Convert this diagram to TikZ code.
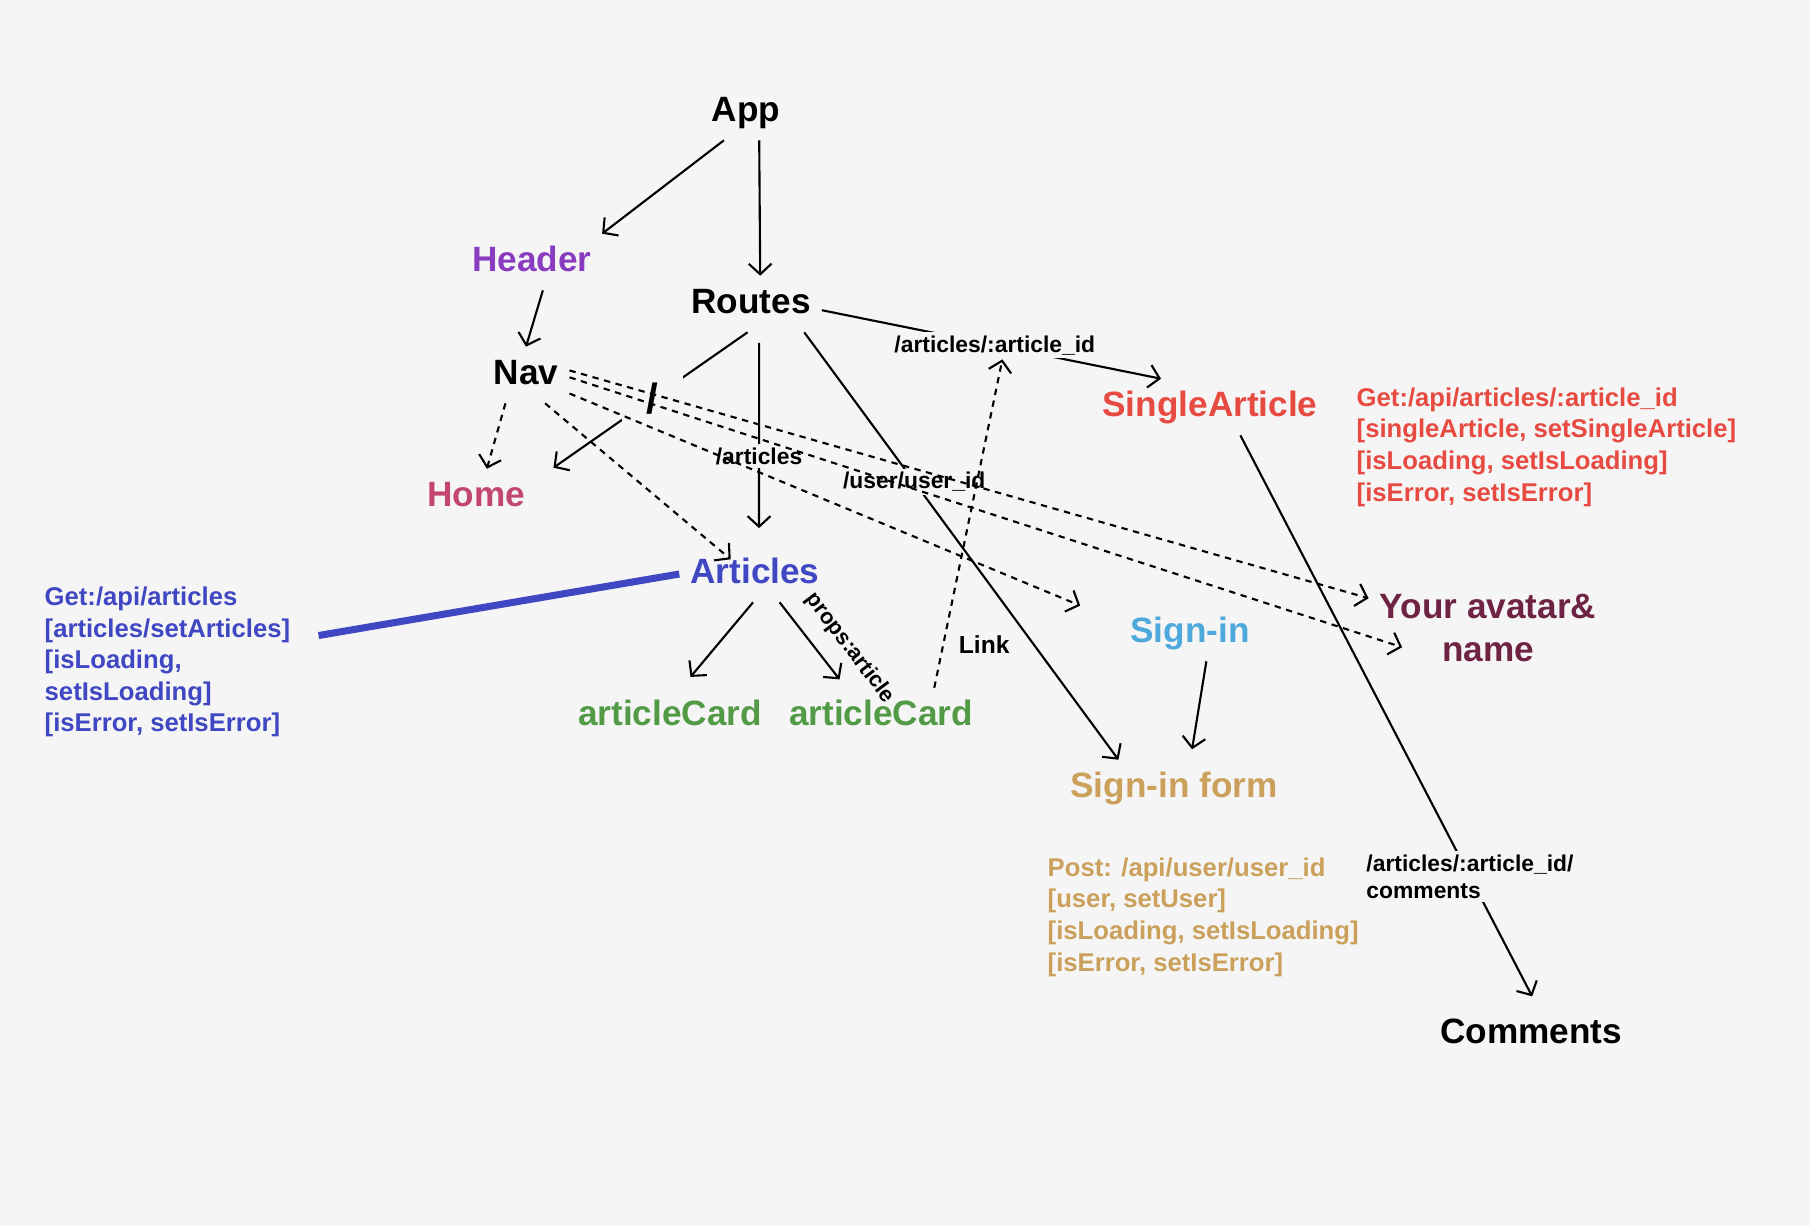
\documentclass[tikz,border=0pt]{standalone}
\usepackage{fontspec}
\setmainfont{Liberation Sans}
\usetikzlibrary{arrows.meta}
\definecolor{bgcol}{HTML}{F5F5F5}
\definecolor{headercol}{HTML}{8A3CC0}
\definecolor{homecol}{HTML}{C2466E}
\definecolor{articlescol}{HTML}{3F47C2}
\definecolor{singlecol}{HTML}{E64A40}
\definecolor{signincol}{HTML}{4DA8DC}
\definecolor{avatarcol}{HTML}{6E2343}
\definecolor{cardcol}{HTML}{529A45}
\definecolor{formcol}{HTML}{CBA05B}

\begin{document}
\begin{tikzpicture}[x=0.01cm,y=-0.01cm,>={Straight Barb[length=3pt,width=6.5pt]},
    bigfont/.style={font=\fontsize{10}{12.2}\selectfont\bfseries},
    compnode/.style={bigfont, inner sep=3pt, text height=7.5pt, text depth=2.2pt},
    routelbl/.style={font=\fontsize{6.5}{7.7}\selectfont\bfseries, fill=bgcol, inner sep=1pt},
    hooktext/.style={font=\fontsize{7.3}{9}\selectfont\bfseries, align=left, inner sep=0pt, anchor=west},
    solidarrow/.style={->, line width=0.6pt},
    navarrow/.style={->, line width=0.6pt, dash pattern=on 1.8pt off 1.6pt}]

%the page
    \fill[bgcol] (0,0) rectangle (1810,1226);

%the components
    \node[compnode] (App) at (746,112) {App};
    \node[compnode, headercol] (Header) at (532,262) {Header};
    \node[compnode] (Routes) at (751,304) {Routes};
    \node[compnode] (Nav) at (526,375) {Nav};
    \node[compnode, homecol] (Home) at (476,497) {Home};
    \node[compnode, articlescol] (Articles) at (755,574) {Articles};
    \node[compnode, singlecol] (SingleArticle) at (1210,407) {SingleArticle};
    \node[compnode, signincol] (SignIn) at (1190,633) {Sign-in};
    \node[bigfont, avatarcol, align=center, inner sep=3pt] (Avatar) at (1488,628) {Your avatar\&\\name};
    \node[compnode, cardcol] (CardA) at (670,716) {articleCard};
    \node[compnode, cardcol] (CardB) at (881,716) {articleCard};
    \node[compnode, formcol] (SignInForm) at (1174,788) {Sign-in form};
    \node[compnode] (Comments) at (1531,1034) {Comments};

%the state and requests
    \node[hooktext, articlescol] (ArticlesApi) at (44,662) {Get:/api/articles\\{[articles/setArticles]}\\{[isLoading,}\\{setIsLoading]}\\{[isError, setIsError]}};
    \node[hooktext, singlecol] (SingleApi) at (1356,447) {Get:/api/articles/:article\_id\\{[singleArticle, setSingleArticle]}\\{[isLoading, setIsLoading]}\\{[isError, setIsError]}};
    \node[hooktext, formcol] (FormApi) at (1047,917) {Post: /api/user/user\_id\\{[user, setUser]}\\{[isLoading, setIsLoading]}\\{[isError, setIsError]}};

%the tree
    \draw[solidarrow] (App.-128) to (Header.22);
    \draw[solidarrow] (App.-65) to (Routes.72);
    \draw[solidarrow] (Header.-69) to (Nav.north);
    \draw[solidarrow, shorten >=6pt] (Routes.-97) to node[font=\fontsize{12}{14}\selectfont\bfseries, fill=bgcol, inner sep=7pt, pos=0.45] (slash) {/} (Home.16);
    \draw[solidarrow, shorten <=3pt, shorten >=5pt] (Routes.-74) to node[routelbl, pos=0.58] (lblArticles) {/articles} (Articles.82);
    \draw[solidarrow] (Routes.-5) to node[routelbl, pos=0.51] (lblSingle) {/articles/:article\_id} (SingleArticle.150);
    \draw[solidarrow] (Routes.-28) to node[routelbl, pos=0.35] (lblUser) {/user/user\_id} (SignInForm.153);
    \draw[solidarrow, shorten >=3pt] (SignIn.-60) to (SignInForm.60);
    \draw[solidarrow, shorten >=3pt] (SingleArticle.-43) to node[routelbl, align=left, pos=0.774] (lblComments) {/articles/:article\_id/\\comments} (Comments.78);
    \draw[solidarrow, shorten >=4pt] (Articles.-94) to (CardA.68);
    \draw[solidarrow, shorten >=3pt] (Articles.-49) to (CardB.141);
    \node[font=\fontsize{6.2}{8}\selectfont\bfseries, rotate=-53, inner sep=0pt] (lblProps) at (850,648) {props:article};
    \draw[line width=2pt, articlescol, shorten >=8pt] (Articles.west) to (ArticlesApi.10);

%the links
    \draw[navarrow] (CardB.28) to node[font=\fontsize{7}{8}\selectfont\bfseries, pos=0.13, right=0.03cm] (lblLink) {Link} (lblSingle.-62);
    \draw[navarrow] (Nav.-126) to (Home.69);
    \draw[navarrow, shorten >=-6pt] (Nav.-56) to (Articles.145);
    \draw[navarrow, shorten >=12pt] (Nav.-23) to (SignIn.171);
    \draw[navarrow] (Nav.6) to (Avatar.166);
    \draw[navarrow, shorten >=-10pt] (Nav.-3) to (Avatar.-176);
\end{tikzpicture}
\end{document}
